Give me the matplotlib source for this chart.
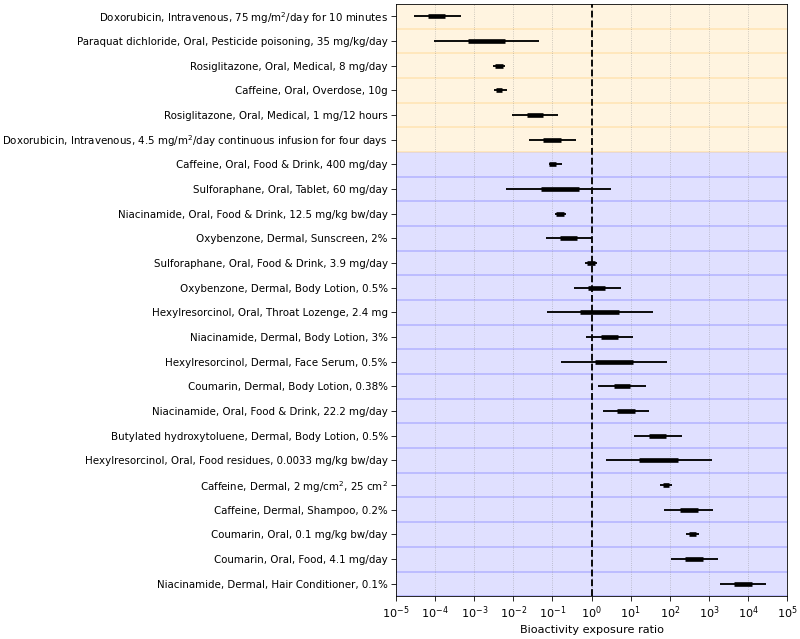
import numpy as np
import matplotlib.pyplot as plt

labels = [
    "Doxorubicin, Intravenous, 75 mg/m$^2$/day for 10 minutes",
    "Paraquat dichloride, Oral, Pesticide poisoning, 35 mg/kg/day",
    "Rosiglitazone, Oral, Medical, 8 mg/day",
    "Caffeine, Oral, Overdose, 10g",
    "Rosiglitazone, Oral, Medical, 1 mg/12 hours",
    "Doxorubicin, Intravenous, 4.5 mg/m$^2$/day continuous infusion for four days",
    "Caffeine, Oral, Food & Drink, 400 mg/day",
    "Sulforaphane, Oral, Tablet, 60 mg/day",
    "Niacinamide, Oral, Food & Drink, 12.5 mg/kg bw/day",
    "Oxybenzone, Dermal, Sunscreen, 2%",
    "Sulforaphane, Oral, Food & Drink, 3.9 mg/day",
    "Oxybenzone, Dermal, Body Lotion, 0.5%",
    "Hexylresorcinol, Oral, Throat Lozenge, 2.4 mg",
    "Niacinamide, Dermal, Body Lotion, 3%",
    "Hexylresorcinol, Dermal, Face Serum, 0.5%",
    "Coumarin, Dermal, Body Lotion, 0.38%",
    "Niacinamide, Oral, Food & Drink, 22.2 mg/day",
    "Butylated hydroxytoluene, Dermal, Body Lotion, 0.5%",
    "Hexylresorcinol, Oral, Food residues, 0.0033 mg/kg bw/day",
    "Caffeine, Dermal, 2 mg/cm$^2$, 25 cm$^2$",
    "Caffeine, Dermal, Shampoo, 0.2%",
    "Coumarin, Oral, 0.1 mg/kg bw/day",
    "Coumarin, Oral, Food, 4.1 mg/day",
    "Niacinamide, Dermal, Hair Conditioner, 0.1%",
]

# log10 values
whisk_lo = [-4.53, -4.03, -2.52, -2.50, -2.03, -1.60, -1.09, -2.18, -0.94, -1.17, -0.16, -0.45,
            -1.15, -0.14, -0.77, 0.17, 0.28, 1.09, 0.38, 1.74, 1.85, 2.41, 2.03, 3.27]
whisk_hi = [-3.35, -1.35, -2.21, -2.15, -0.85, -0.40, -0.76, 0.50, -0.65, 0.00, 0.15, 0.74,
            1.58, 1.05, 1.94, 1.39, 1.47, 2.30, 3.08, 2.06, 3.10, 2.74, 3.22, 4.47]
box_lo = [-4.19, -3.16, -2.48, -2.45, -1.66, -1.24, -1.08, -1.30, -0.90, -0.81, -0.11, -0.09,
          -0.29, 0.24, 0.09, 0.56, 0.66, 1.48, 1.22, 1.82, 2.26, 2.50, 2.40, 3.65]
box_hi = [-3.74, -2.21, -2.26, -2.28, -1.24, -0.79, -0.91, -0.33, -0.71, -0.38, 0.09, 0.33,
          0.69, 0.68, 1.05, 0.98, 1.10, 1.91, 2.21, 1.99, 2.71, 2.68, 2.85, 4.09]

n_top = 6  # rows shaded orange

# the original looks like a larger figure shrunk down, so use a low dpi
fig = plt.figure(figsize=(800 / 74, 639 / 74), dpi=74)
ax = fig.add_axes([0.495, 0.067, 0.489, 0.927])

y = np.arange(len(labels))
for i in y:
    col = 'orange' if i < n_top else 'blue'
    ax.axhspan(i - 0.5, i + 0.5, facecolor=col, alpha=0.12, edgecolor='none', zorder=0)
    ax.axhline(i + 0.5, color=col, alpha=0.2, lw=1.5, zorder=0.5)

ax.hlines(y, 10.0 ** np.array(whisk_lo), 10.0 ** np.array(whisk_hi), color='black', lw=1.8, zorder=3)
ax.hlines(y, 10.0 ** np.array(box_lo), 10.0 ** np.array(box_hi), color='black', lw=4.5, zorder=4)

ax.axvline(1, color='black', ls='--', lw=1.8, zorder=5)

ax.set_xscale('log')
ax.set_xlim(1e-5, 1e5)
ax.set_ylim(len(labels) - 0.5, -0.5)
ax.set_xticks(10.0 ** np.arange(-5, 6))
ax.set_yticks(y)
ax.set_yticklabels(labels)
ax.tick_params(axis='x', labelsize=11, length=4.5)
ax.tick_params(axis='y', length=4.5)
ax.grid(axis='x', which='major', linestyle=':', color='gray', alpha=0.5)
ax.set_axisbelow(True)
ax.set_xlabel('Bioactivity exposure ratio', fontsize=11)

fig.savefig('out.png', dpi=74)
